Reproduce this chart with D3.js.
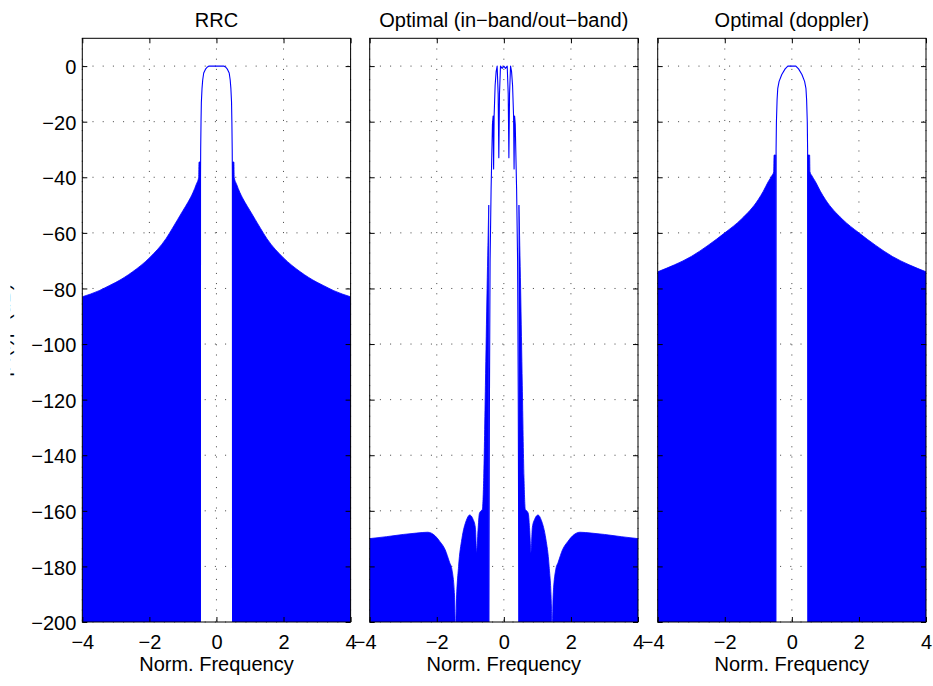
<!DOCTYPE html>
<html>
<head>
<meta charset="utf-8">
<script src="https://cdn.jsdelivr.net/npm/d3@7"></script>
<style>
  body { margin: 0; background: #fff; }
  svg text { font-family: "Liberation Sans", Arial, Helvetica, sans-serif; fill: #000; }
</style>
</head>
<body>
<svg id="chart" width="933" height="686"></svg>
<script>
// Axis ticks shared by the three panels
const xTicks = [-4, -2, 0, 2, 4];
const yTicks = [-200, -180, -160, -140, -120, -100, -80, -60, -40, -20, 0];
const titles = ["RRC", "Optimal (in\u2212band/out\u2212band)", "Optimal (doppler)"];
const xLabel = "Norm. Frequency";
const yLabel = "|H(f)|\u00B2 (dB)";

// Spectra are symmetric about f = 0: only the positive half is listed.
// Main lobe (f, dB) down to the first deep null.
const rrcLobeF  = [0, 0.22, 0.28, 0.33, 0.38, 0.41, 0.43, 0.45, 0.46, 0.47, 0.475, 0.48];
const rrcLobeDb = [0, 0, -0.4, -1.2, -2.5, -5, -8, -13, -20, -30, -40, -205];
// Envelope of the densely oscillating sidelobes (f, dB).
const rrcSideF  = [0.48, 0.52, 0.53, 0.6, 0.7, 0.85, 1.0, 1.32, 1.5, 2.0, 2.5, 3.0, 3.2, 3.5, 4.0];
const rrcSideDb = [-34.5, -34.5, -40, -42.5, -45.5, -49, -52, -58.5, -62, -69, -74, -77.8, -79, -80.8, -83];

const midLobeF  = [0, 0.05, 0.1, 0.13, 0.15, 0.17, 0.2, 0.23, 0.26, 0.29, 0.305, 0.32, 0.34, 0.38, 0.41, 0.43, 0.45];
const midLobeDb = [0, -0.8, 0, -10, -33, -10, 0, -2, -7, -18, -37, -18, -21, -44, -70, -120, -205];
const midSideF  = [0.45, 0.5, 0.55, 0.6, 0.64, 0.68, 0.73, 0.77, 0.81, 0.85, 0.92, 1.02, 1.12, 1.25, 1.35, 1.42, 1.44, 1.47, 1.55, 1.62, 1.75, 1.91, 2.05, 2.27, 2.6, 3.0, 3.5, 4.0];
const midSideDb = [-50, -80, -115, -148, -159.5, -160, -161, -167, -175, -166, -163, -161.5, -163.5, -170, -180, -195, -205, -190.6, -181, -178.5, -174, -171, -169, -167.7, -168, -168.5, -169.3, -170];

const dopLobeF  = [0, 0.12, 0.2, 0.3, 0.38, 0.42, 0.44, 0.46, 0.47, 0.48];
const dopLobeDb = [0, 0, -1, -3, -5.5, -8, -12, -20, -30, -205];
const dopSideF  = [0.48, 0.53, 0.54, 0.6, 0.7, 0.85, 1.0, 1.5, 2.0, 2.5, 3.0, 3.5, 4.0];
const dopSideDb = [-32, -32, -38, -39.5, -41.5, -45, -48, -55, -60, -64.5, -68.5, -71.5, -74];

const panels = [
  { title: titles[0], lobeF: rrcLobeF, lobeDb: rrcLobeDb, sideF: rrcSideF, sideDb: rrcSideDb, yLabels: true },
  { title: titles[1], lobeF: midLobeF, lobeDb: midLobeDb, sideF: midSideF, sideDb: midSideDb, yLabels: false },
  { title: titles[2], lobeF: dopLobeF, lobeDb: dopLobeDb, sideF: dopSideF, sideDb: dopSideDb, yLabels: false }
];

const svg = d3.select("#chart");
const lefts = [82.3, 369.7, 657.7];
const pw = 268.3, plotTop = 38.3, plotBottom = 622;
const blue = "#0000ff";
const fontSize = 20;
const fmt = d => d < 0 ? "\u2212" + Math.abs(d) : String(d);

// Mirror a half spectrum into a full one
function mirror(fs, dbs) {
  const neg = fs.map((f, i) => ({ f: -f, db: dbs[i] })).reverse();
  const pos = fs.map((f, i) => ({ f: f, db: dbs[i] }));
  return { neg, pos };
}

panels.forEach((p, k) => {
  const x = d3.scaleLinear().domain([-4, 4]).range([0, pw]);
  const y = d3.scaleLinear().domain([-200, 10]).range([plotBottom, plotTop]);
  const g = svg.append("g").attr("transform", `translate(${lefts[k]},0)`);

  const clipId = "clip" + k;
  svg.append("clipPath").attr("id", clipId)
    .append("rect").attr("x", 0).attr("y", plotTop).attr("width", pw).attr("height", plotBottom - plotTop);

  // dotted grid
  const grid = g.append("g").attr("stroke", "#000").attr("stroke-width", 1)
    .attr("stroke-dasharray", "1,9.2").attr("stroke-opacity", 0.75);
  xTicks.forEach(t => grid.append("line")
    .attr("x1", x(t)).attr("x2", x(t)).attr("y1", plotTop).attr("y2", plotBottom));
  yTicks.forEach(t => grid.append("line")
    .attr("x1", 0).attr("x2", pw).attr("y1", y(t)).attr("y2", y(t)));

  const data = g.append("g").attr("clip-path", `url(#${clipId})`);

  // sidelobe regions: filled from the envelope to the floor
  const side = mirror(p.sideF, p.sideDb);
  const area = d3.area().curve(d3.curveMonotoneX)
    .x(d => x(d.f)).y0(y(-200) + 2).y1(d => y(d.db));
  [side.neg, side.pos].forEach(seg => {
    data.append("path").datum(seg).attr("d", area)
      .attr("fill", blue).attr("stroke", blue).attr("stroke-width", 0.8);
  });

  // main lobe trace
  const lobe = mirror(p.lobeF, p.lobeDb);
  const lobePts = lobe.neg.concat(lobe.pos.slice(1));
  data.append("path").datum(lobePts)
    .attr("d", d3.line().x(d => x(d.f)).y(d => y(d.db)))
    .attr("fill", "none").attr("stroke", blue).attr("stroke-width", 1.1)
    .attr("stroke-linejoin", "round");

  // axes with inward ticks on all four sides
  const styleAxis = sel => {
    sel.select(".domain").remove();
    sel.selectAll("line").attr("stroke", "#000");
    sel.selectAll("text").attr("font-size", fontSize).attr("font-family", null);
  };
  const bottomAxis = g.append("g").attr("transform", `translate(0,${plotBottom})`)
    .call(d3.axisBottom(x).tickValues(xTicks).tickSize(-5).tickPadding(13).tickFormat(fmt))
    .call(styleAxis);
  // the leftmost label of the inner panels is nudged away from its neighbour
  if (k > 0) bottomAxis.selectAll(".tick text").filter(d => d === xTicks[0]).attr("dx", -5);
  g.append("g").attr("transform", `translate(0,${plotTop})`)
    .call(d3.axisTop(x).tickValues(xTicks).tickSize(-5).tickFormat(""))
    .call(styleAxis);
  const leftAxis = g.append("g")
    .call(d3.axisLeft(y).tickValues(yTicks).tickSize(-5).tickPadding(6).tickFormat(p.yLabels ? fmt : ""))
    .call(styleAxis);
  leftAxis.selectAll(".tick text").attr("dy", "0.38em");
  g.append("g").attr("transform", `translate(${pw},0)`)
    .call(d3.axisRight(y).tickValues(yTicks).tickSize(-5).tickFormat(""))
    .call(styleAxis);

  // box
  g.append("rect").attr("x", 0).attr("y", plotTop).attr("width", pw).attr("height", plotBottom - plotTop)
    .attr("fill", "none").attr("stroke", "#000").attr("stroke-width", 1);

  g.append("text").attr("x", pw / 2).attr("y", 27).attr("text-anchor", "middle")
    .attr("font-size", fontSize).text(p.title);
  g.append("text").attr("x", pw / 2).attr("y", 671).attr("text-anchor", "middle")
    .attr("font-size", fontSize).text(xLabel);
});

// y label sits mostly beyond the left edge of the figure
svg.append("clipPath").attr("id", "ylabClip")
  .append("rect").attr("x", 10.4).attr("y", 0).attr("width", 30).attr("height", 686);
svg.append("g").attr("clip-path", "url(#ylabClip)")
  .append("text")
  .attr("transform", `translate(10,${(plotTop + plotBottom) / 2}) rotate(-90)`)
  .attr("text-anchor", "middle").attr("font-size", fontSize)
  .text(yLabel);
</script>
</body>
</html>
